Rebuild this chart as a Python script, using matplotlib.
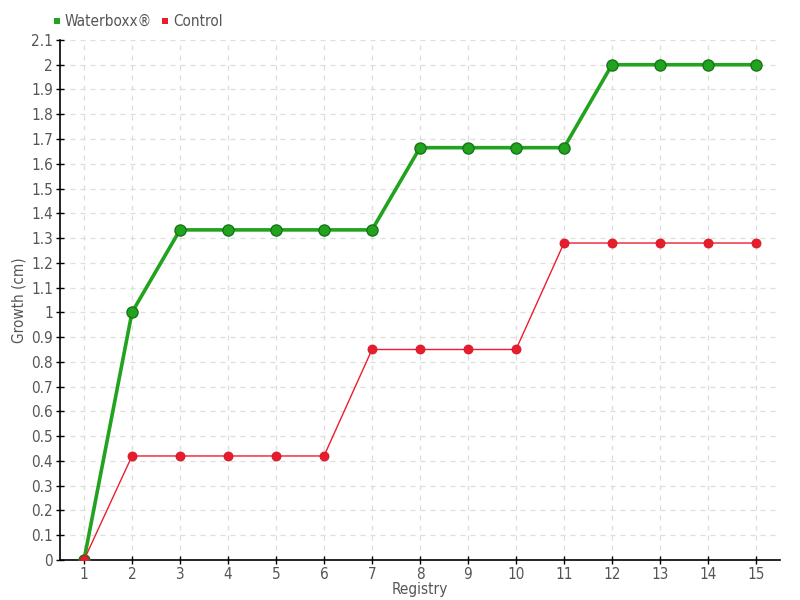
import matplotlib
matplotlib.use("Agg")
import matplotlib.pyplot as plt
from matplotlib.ticker import MultipleLocator, FuncFormatter

# Data
registry = list(range(1, 16))
waterboxx = [0, 1.0, 1.333, 1.333, 1.333, 1.333, 1.333, 1.665, 1.665, 1.665, 1.665, 2.0, 2.0, 2.0, 2.0]
control = [0, 0.42, 0.42, 0.42, 0.42, 0.42, 0.85, 0.85, 0.85, 0.85, 1.28, 1.28, 1.28, 1.28, 1.28]

plt.rcParams['font.family'] = ['DejaVu Sans']
plt.rcParams['font.stretch'] = 'condensed'
text_color = '#555555'

fig = plt.figure(figsize=(8, 6), dpi=100)
ax = fig.add_axes([0.075, 0.0667, 0.9, 0.8667])

# Waterboxx series: thick green line with large markers
ax.plot(registry, waterboxx, color='#22a31e', linewidth=2.6, marker='o',
        markersize=8, markerfacecolor='#22a31e', markeredgecolor='#17761a',
        markeredgewidth=1, zorder=3, label='Waterboxx®')
# Control series: thin red line
ax.plot(registry, control, color='#ee1c2e', linewidth=1.0, marker='o',
        markersize=6.5, markerfacecolor='#e81c2c', markeredgecolor='#d0192a',
        markeredgewidth=0.6, zorder=4, label='Control')

ax.set_xlim(0.5, 15.5)
ax.set_ylim(0, 2.1)
ax.xaxis.set_major_locator(MultipleLocator(1))
ax.yaxis.set_major_locator(MultipleLocator(0.1))
ax.yaxis.set_major_formatter(FuncFormatter(lambda v, p: f"{v:.1f}".rstrip('0').rstrip('.') if v else "0"))

ax.grid(True, color='#dddddd', linestyle=(0, (4, 4)), linewidth=0.9)
ax.set_axisbelow(True)

for side in ['top', 'right']:
    ax.spines[side].set_visible(False)
for side in ['left', 'bottom']:
    ax.spines[side].set_color('black')
    ax.spines[side].set_linewidth(1.2)

ax.tick_params(axis='both', colors='black', labelcolor=text_color, labelsize=11,
               direction='inout', length=6, width=1, pad=2)

ax.set_xlabel('Registry', color=text_color, fontsize=11, labelpad=0)
ax.set_ylabel('Growth (cm)', color=text_color, fontsize=11)
ax.yaxis.set_label_coords(-0.046, 0.5)

leg = ax.legend(loc='lower left', bbox_to_anchor=(-0.025, 1.0), ncol=2, frameon=False,
                handlelength=0.5, handletextpad=0.3, columnspacing=0.6,
                fontsize=11, borderaxespad=0.3)
for h in leg.legend_handles:
    h.set_linestyle('None')
    h.set_marker('s')
    h.set_markersize(5)
    h.set_markeredgewidth(0)
for t in leg.get_texts():
    t.set_color(text_color)

fig.savefig('out.png', dpi=100)
